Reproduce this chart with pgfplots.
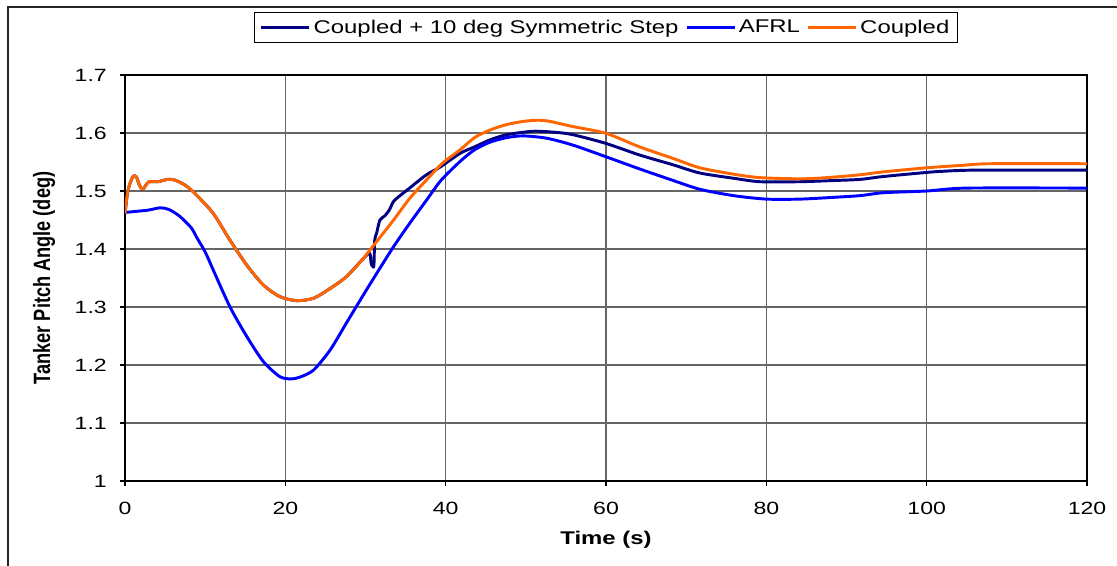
\documentclass[border=0pt]{standalone}
\usepackage{pgfplots}
\pgfplotsset{compat=1.18}
\usepackage{fontspec}
\setmainfont{Liberation Sans}[FakeStretch=1.3]
\newfontfamily\ylfont{Liberation Sans}[FakeStretch=0.77]
\definecolor{navyc}{RGB}{0,0,128}
\definecolor{bluec}{RGB}{0,0,255}
\definecolor{orangec}{RGB}{255,102,0}
\begin{document}
\begin{tikzpicture}
\begin{axis}[
  scale only axis, width=721.5pt, height=304.5pt,
  xmin=0, xmax=120, ymin=1, ymax=1.7,
  xtick={0,20,40,60,80,100,120},
  ytick={1,1.1,1.2,1.3,1.4,1.5,1.6,1.7},
  grid=major, grid style={black!60, line width=0.8pt},
  axis line style={black, line width=0.9pt},
  tick align=outside, tick pos=left, major tick length=3.75pt,
  tick style={black, line width=0.8pt},
  /pgf/number format/assume math mode=true,
  tick label style={font=\fontsize{13.3}{15}\selectfont},
  xticklabel style={anchor=north, inner sep=0pt, yshift=-12pt},
  yticklabel style={anchor=east, inner sep=0pt, xshift=-9.75pt},
  xlabel={Time (s)}, ylabel={Tanker Pitch Angle (deg)},
  x label style={font=\fontsize{13.8}{16}\selectfont\bfseries, at={(axis description cs:0.5,0)}, anchor=center, yshift=-44.25pt},
  y label style={font=\fontsize{17.7}{20}\ylfont\bfseries, at={(axis description cs:0,0.5)}, anchor=center, yshift=60.75pt},
  legend columns=3,
  legend style={at={(axis description cs:0.5,1)}, anchor=south, yshift=24pt,
    draw=black, line width=0.75pt, fill=white,
    font=\fontsize{13.8}{16}\selectfont,
    inner xsep=4pt, inner ysep=3.6pt,
    /tikz/every even column/.append style={column sep=3pt}},
  legend image code/.code={\draw[#1] (0pt,0pt) -- (36pt,0pt);},
  every axis plot/.append style={line width=2.2pt, line join=round, mark=none, smooth, tension=0.45},
]
\coordinate (SW) at (rel axis cs:0,0);
\addplot[navyc] coordinates {
(0,1.461) (0.3,1.496) (0.6,1.512) (1.0,1.525) (1.4,1.525) (1.8,1.510) (2.2,1.503) (2.6,1.510) (3.0,1.516) (4.1,1.516) (5.3,1.520) (6.2,1.519) (7.5,1.510) (8.7,1.496) (11.0,1.4615) (13.1,1.415) (15.2,1.372) (17.25,1.338) (19.3,1.318) (21.4,1.311) (23.5,1.315) (25.6,1.332) (27.6,1.352) (29.5,1.380) (30.5,1.393)
(30.7,1.375) (30.9,1.370) (31.05,1.372) (31.15,1.415) (31.4,1.428) (31.8,1.450) (32.4,1.457) (33.0,1.468) (33.5,1.482) (34.3,1.492) (35.5,1.505) (37.6,1.528) (39.4,1.542) (41.8,1.565) (43.6,1.576) (45.5,1.588) (47.6,1.597) (50.9,1.603) (53.8,1.601) (55.9,1.597) (60,1.582) (64.2,1.562) (68.4,1.545) (71.7,1.531) (75.9,1.522) (79.2,1.516) (84.2,1.516) (88.3,1.518) (91.7,1.520) (94.6,1.525) (100,1.532) (102,1.534) (106.2,1.536) (120,1.536)
};
\addlegendentry{Coupled + 10 deg Symmetric Step}
\addplot[bluec] coordinates {
(0,1.463) (1.5,1.465) (2.9,1.467) (4.4,1.471) (5.5,1.468) (6.86,1.456) (8.3,1.436) (8.9,1.421) (10.0,1.395) (11.0,1.364) (13.1,1.300) (15.2,1.249) (17.25,1.206) (19.3,1.180) (20.7,1.176) (21.8,1.179) (23.5,1.191) (25.6,1.226) (27.6,1.272) (29.7,1.320) (31.4,1.358) (33.5,1.404) (35.5,1.444) (37.6,1.484) (39.4,1.518) (41.8,1.551) (43.6,1.571) (45.5,1.584) (47.6,1.592) (49.7,1.595) (52.6,1.591) (55.9,1.579) (60,1.559) (64.2,1.538) (68.4,1.518) (71.7,1.503) (75.9,1.492) (80,1.486) (84.2,1.486) (88.3,1.489) (91.7,1.492) (94.6,1.497) (100,1.500) (105,1.505) (120,1.505)
};
\addlegendentry{AFRL}
\addplot[orangec] coordinates {
(0,1.461) (0.3,1.496) (0.6,1.512) (1.0,1.525) (1.4,1.525) (1.8,1.510) (2.2,1.503) (2.6,1.510) (3.0,1.516) (4.1,1.516) (5.3,1.520) (6.2,1.519) (7.5,1.510) (8.7,1.496) (11.0,1.4615) (13.1,1.415) (15.2,1.372) (17.25,1.338) (19.3,1.318) (21.4,1.311) (23.5,1.315) (25.6,1.332) (27.6,1.352) (29.5,1.380) (31.4,1.413) (33.5,1.450) (35.5,1.487) (37.6,1.519) (39.6,1.548) (41.8,1.571) (43.6,1.592) (45.5,1.605) (47.6,1.6145) (49.7,1.620) (51.5,1.622) (53,1.620) (55.9,1.611) (60,1.5995) (64.2,1.576) (68.4,1.556) (71.7,1.540) (75.9,1.529) (79.2,1.523) (84.2,1.521) (87.5,1.523) (91.7,1.528) (94.6,1.533) (100,1.540) (104.2,1.544) (107.9,1.547) (120,1.547)
};
\addlegendentry{Coupled}
\end{axis}
\draw[black!85, line width=1.1pt] (SW) ++(-87.75pt,-63.75pt) -- ++(0,419.25pt) -- ++(831.75pt,0);
\pgfresetboundingbox
\path[use as bounding box] (SW) ++(-93.75pt,-63.75pt) rectangle ++(837.75pt,424.5pt);
\end{tikzpicture}
\end{document}
